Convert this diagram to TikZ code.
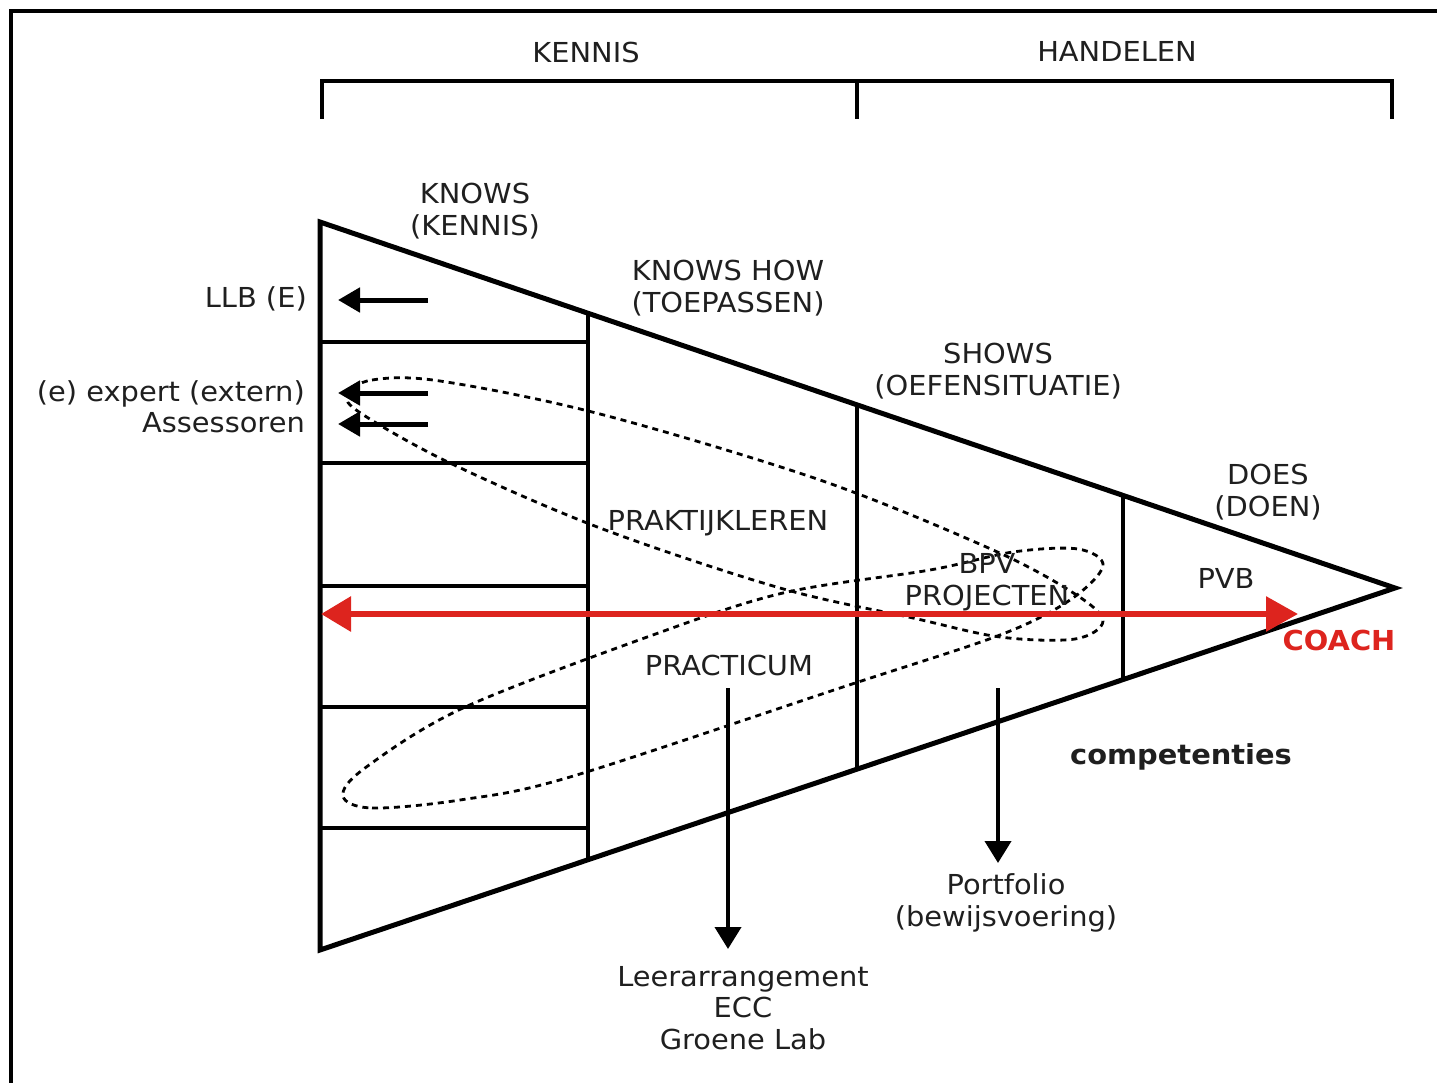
\documentclass[tikz,border=0pt]{standalone}
\usepackage{fontspec}
\setmainfont{DejaVu Sans}[FakeStretch=1.05]
\usetikzlibrary{arrows.meta}
\definecolor{coachred}{RGB}{221,36,30}
\begin{document}
\begin{tikzpicture}[x=1pt,y=-1pt,
  lbl/.style={font=\fontsize{27.5}{31.5}\selectfont, align=center, inner sep=0pt, text=black!88},
  boldlbl/.style={lbl, font=\fontsize{27.5}{31.5}\selectfont\bfseries},
  frame/.style={line width=4pt},
  edge/.style={line width=5pt, line join=miter},
  rule/.style={line width=4pt},
  loopline/.style={line width=2.8pt, dash pattern=on 6pt off 5pt},
  sidearrow/.style={line width=5pt, -{Triangle[length=22pt,width=24pt]}},
  downarrow/.style={line width=4pt, -{Triangle[length=22pt,width=26pt]}},
  coacharrow/.style={draw=coachred, line width=6pt,
    {Triangle[length=30pt,width=34pt,fill=coachred]}-{Triangle[length=32pt,width=34pt,fill=coachred]}}
]
\useasboundingbox (0,0) rectangle (1437,1083);

% outer frame
\draw[frame] (11,1083) -- (11,11) -- (1437,11);

% bracket KENNIS / HANDELEN
\draw[rule] (322,119) -- (322,81) -- (1392,81) -- (1392,119);
\draw[rule] (857,81) -- (857,119);
\node[lbl] (kennis) at (586,52) {KENNIS};
\node[lbl] (handelen) at (1117,51) {HANDELEN};

% triangle of Miller
\coordinate (tA) at (320,222);
\coordinate (tB) at (320,950);
\coordinate (tC) at (1395,588);
\draw[edge] (tA) -- (tC) -- (tB) -- cycle;

% vertical dividers
\draw[rule] (588,314) -- (588,860);
\draw[rule] (857,405) -- (857,769);
\draw[rule] (1123,495) -- (1123,680);

% rows in the first column
\foreach \yy in {342,463,586,707,828}
  \draw[rule] (320,\yy) -- (588,\yy);

% dotted loops
\draw[loopline] plot[smooth cycle, tension=0.55] coordinates {
  (347,395) (372,380) (440,381) (600,414) (820,480) (993,550) (1075,594)
  (1103,621) (1075,639) (1000,637) (913,618) (780,588)
  (600,528) (450,463) (362,414)};
\draw[loopline] plot[smooth cycle, tension=0.55] coordinates {
  (343,796) (372,808) (460,800) (570,777) (843,687) (1000,635) (1070,600)
  (1103,566) (1078,549) (1013,552) (930,570) (783,593)
  (650,636) (463,708) (365,768)};

% level labels
\node[lbl] (knows) at (475,211) {KNOWS\\(KENNIS)};
\node[lbl] (knowshow) at (728,288) {KNOWS HOW\\(TOEPASSEN)};
\node[lbl] (shows) at (998,371) {SHOWS\\(OEFENSITUATIE)};
\node[lbl] (does) at (1268,492) {DOES\\(DOEN)};

% assessors on the left
\node[lbl, anchor=east] (llb) at (307,299) {LLB (E)};
\node[lbl, anchor=east, align=right] (expert) at (305,407) {(e) expert (extern)\\Assessoren};
\coordinate (llbS) at (428,300);   \coordinate (llbE) at (338,300);
\coordinate (expS) at (428,393);   \coordinate (expE) at (338,393);
\coordinate (assS) at (428,424);   \coordinate (assE) at (338,424);
\draw[sidearrow] (llbS) -- (llbE);
\draw[sidearrow] (expS) -- (expE);
\draw[sidearrow] (assS) -- (assE);

% inner labels
\node[lbl] (prak) at (718,523) {PRAKTIJKLEREN};
\node[lbl] (bpv) at (987,582) {BPV\\PROJECTEN};
\node[lbl] (pvb) at (1226,578) {PVB};
\node[lbl] (practicum) at (729,665) {PRACTICUM};
\node[boldlbl] (comp) at (1181,757) {competenties};

% coach arrow
\coordinate (coachL) at (321,614);
\coordinate (coachR) at (1298,614);
\draw[coacharrow] (coachL) -- (coachR);
\node[boldlbl, text=coachred] (coach) at (1339,640) {COACH};

% down arrows to the outcomes
\node[lbl] (portfolio) at (1006,903) {Portfolio\\(bewijsvoering)};
\node[lbl] (leer) at (743,1008) {Leerarrangement\\ECC\\Groene Lab};
\coordinate (pracS) at (728,688);
\coordinate (pracE) at (728,949);
\coordinate (showS) at (998,688);
\coordinate (showE) at (998,863);
\draw[downarrow] (pracS) -- (pracE);
\draw[downarrow] (showS) -- (showE);
\end{tikzpicture}
\end{document}
